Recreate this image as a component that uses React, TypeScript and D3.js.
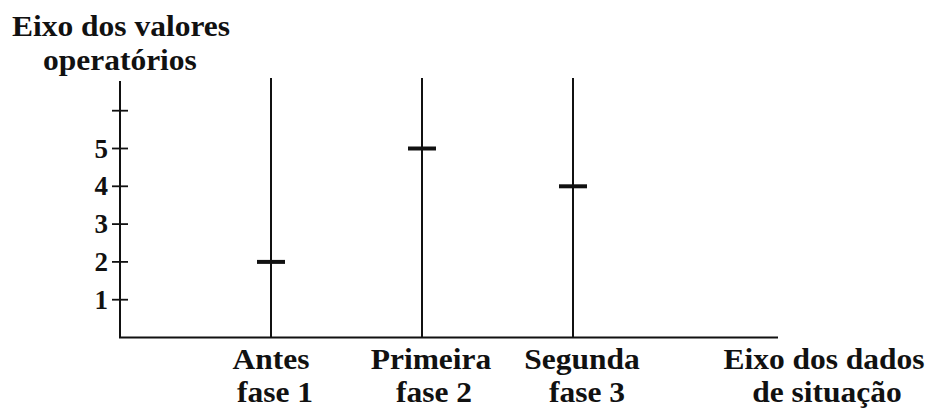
import React from "react";
import * as d3 from "d3";

const categories = ["Antes", "Primeira", "Segunda"];
const phaseLabels = ["fase 1", "fase 2", "fase 3"];
const values = [2, 5, 4];
const yTicks = [1, 2, 3, 4, 5, 6];
const yTickLabels = ["1", "2", "3", "4", "5", ""];
const yTitle = ["Eixo dos valores", "operatórios"];
const xTitle = ["Eixo dos dados", "de situação"];

const FS = 28.5;
const SX = 1.105;

function T({ x, y, anchor = "start", children }: { x: number; y: number; anchor?: string; children: React.ReactNode }) {
  return (
    <text transform={`translate(${x},${y}) scale(${SX},1)`} fontSize={FS} textAnchor={anchor}>
      {children}
    </text>
  );
}

export default function App() {
  const W = 929, H = 409;
  const x0 = 120, yBase = 337.5, xEnd = 778;
  const y = d3.scaleLinear().domain([0, 6]).range([yBase, yBase - 6 * 37.8]);
  const x = d3.scalePoint<string>().domain(categories).range([271, 573]);
  const fontStyle = { fontFamily: '"Liberation Serif", "Times New Roman", serif', fontWeight: 700 };
  const axisTop = 81;
  const labelShift1 = [0, 9, 9];
  const labelShift2 = [4, 12, 14];
  return (
    <svg width={W} height={H} style={{ position: "absolute", left: 0, top: 0, background: "#fff", ...fontStyle }} fill="#111">
      <T x={12} y={36}>{yTitle[0]}</T>
      <T x={43} y={70}>{yTitle[1]}</T>
      <line x1={x0} x2={x0} y1={axisTop} y2={yBase} stroke="#111" strokeWidth={2} />
      <line x1={x0 - 1} x2={xEnd} y1={yBase} y2={yBase} stroke="#111" strokeWidth={2} />
      {yTicks.map((t, i) => (
        <g key={t}>
          <line x1={x0 - 8} x2={x0 + 8} y1={y(t)} y2={y(t)} stroke="#111" strokeWidth={1.8} />
          <text x={108} y={y(t) + 9} fontSize={27} textAnchor="end">{yTickLabels[i]}</text>
        </g>
      ))}
      {categories.map((c, i) => {
        const cx = x(c)!;
        return (
          <g key={c}>
            <line x1={cx} x2={cx} y1={axisTop - 3} y2={yBase} stroke="#111" strokeWidth={2} />
            <line x1={cx - 14} x2={cx + 14} y1={y(values[i])} y2={y(values[i])} stroke="#111" strokeWidth={4} />
            <T x={cx + labelShift1[i]} y={369} anchor="middle">{c}</T>
            <T x={cx + labelShift2[i]} y={402} anchor="middle">{phaseLabels[i]}</T>
          </g>
        );
      })}
      <T x={824} y={369} anchor="middle">{xTitle[0]}</T>
      <T x={827} y={402} anchor="middle">{xTitle[1]}</T>
    </svg>
  );
}
